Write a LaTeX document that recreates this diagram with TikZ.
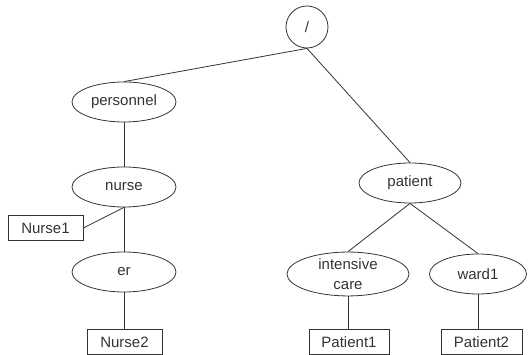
\documentclass[tikz,border=0pt]{standalone}
\usepackage{fontspec}
\setmainfont{Liberation Sans}
\usetikzlibrary{shapes.geometric}
\definecolor{ink}{HTML}{333333}
\begin{document}
\begin{tikzpicture}[x=1pt,y=-1pt,
  every node/.style={font=\fontsize{15}{20}\selectfont, text=ink, draw=ink, line width=0.8pt, inner sep=0pt},
  elem/.style={ellipse, minimum height=40pt},
  leaf/.style={rectangle, minimum height=25pt},
  link/.style={draw=ink, line width=0.8pt}]
  \useasboundingbox (0,0) rectangle (528,355);
  % root
  \node[circle, minimum size=42pt] (root) at (307,27) {/};
  % left branch
  \node[elem, minimum width=104pt] (pers) at (124,102) {personnel};
  \node[elem, minimum width=104pt] (nurse) at (124,187) {nurse};
  \node[leaf, minimum width=75pt] (n1) at (45.5,228) {Nurse1};
  \node[elem, minimum width=104pt] (er) at (124,272) {er};
  \node[leaf, minimum width=75pt] (n2) at (124.5,342) {Nurse2};
  % right branch
  \node[elem, minimum width=102pt] (pat) at (410,183) {patient};
  \node[elem, minimum width=122pt, align=center] (ic) at (348,274) {intensive\\care};
  \node[elem, minimum width=97pt] (ward) at (478,274) {ward1};
  \node[leaf, minimum width=80pt] (p1) at (349,342) {Patient1};
  \node[leaf, minimum width=81pt] (p2) at (481.5,342) {Patient2};
  % connectors
  \draw[link] (root.south) -- (pers.north);
  \draw[link] (root.south) -- (pat.north);
  \draw[link] (pers.south) -- (nurse.north);
  \draw[link] (n1.east) -- (nurse.south);
  \draw[link] (nurse.south) -- (er.north);
  \draw[link] (er.south) -- (n2.north -| er.south);
  \draw[link] (pat.south) -- (ic.north);
  \draw[link] (pat.south) -- (ward.north);
  \draw[link] (ic.south) -- (p1.north -| ic.south);
  \draw[link] (ward.south) -- (p2.north -| ward.south);
\end{tikzpicture}
\end{document}
